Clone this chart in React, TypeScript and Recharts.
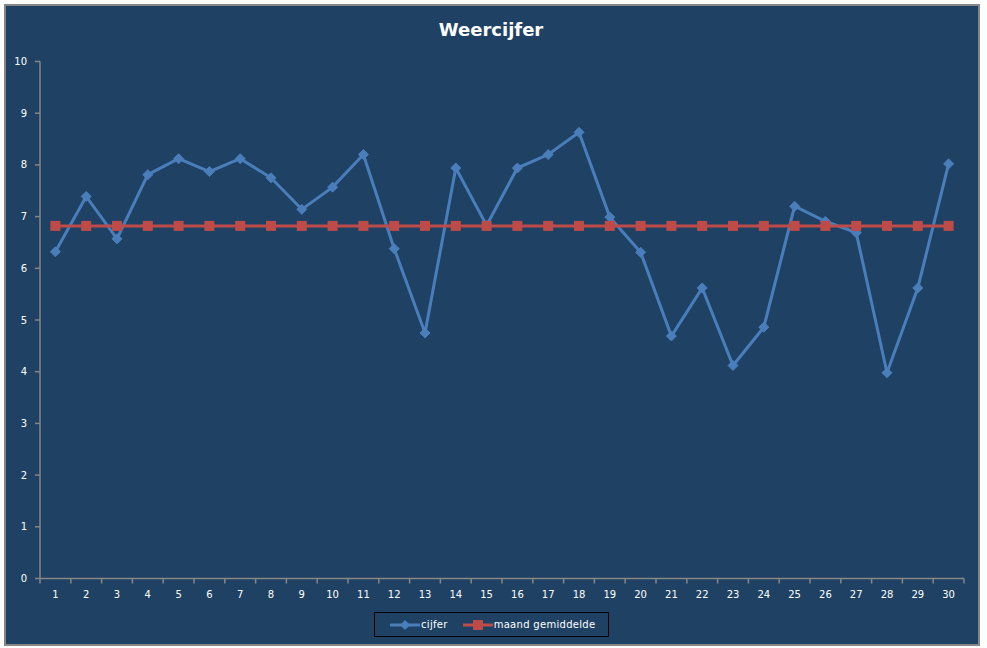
import React from 'react';
import { LineChart, Line, XAxis, YAxis } from 'recharts';

const DAYS = [1, 2, 3, 4, 5, 6, 7, 8, 9, 10, 11, 12, 13, 14, 15, 16, 17, 18, 19, 20, 21, 22, 23, 24, 25, 26, 27, 28, 29, 30];
const CIJFER = [6.32, 7.39, 6.57, 7.81, 8.12, 7.87, 8.12, 7.75, 7.14, 7.57, 8.2, 6.38, 4.75, 7.94, 6.83, 7.94, 8.2, 8.63, 6.99, 6.31, 4.69, 5.62, 4.12, 4.86, 7.2, 6.91, 6.69, 3.98, 5.62, 8.02];
const GEMIDDELDE = [6.82, 6.82, 6.82, 6.82, 6.82, 6.82, 6.82, 6.82, 6.82, 6.82, 6.82, 6.82, 6.82, 6.82, 6.82, 6.82, 6.82, 6.82, 6.82, 6.82, 6.82, 6.82, 6.82, 6.82, 6.82, 6.82, 6.82, 6.82, 6.82, 6.82];
const Y_TICKS = [0, 1, 2, 3, 4, 5, 6, 7, 8, 9, 10];
const TITLE = 'Weercijfer';
const SERIES_NAMES = ['cijfer', 'maand gemiddelde'];

const data = DAYS.map((d, i) => ({ day: d, cijfer: CIJFER[i], gem: GEMIDDELDE[i] }));

const W = 987;
const H = 648;
const MARGIN = { top: 61.5, right: 23, bottom: 39.5, left: 0 };
const YAXIS_W = 40;
const PLOT_W = W - MARGIN.left - MARGIN.right - YAXIS_W;
const HALF_BAND = PLOT_W / DAYS.length / 2;

const BG = '#1F4264';
const AXIS = '#868686';
const BLUE = '#4A7EBB';
const RED = '#BE4B48';
const FONT = '"DejaVu Sans", Verdana, sans-serif';

const XTick = (props: any) => {
  const { x, y, payload, index } = props;
  const axisY = y - 12;
  return (
    <g>
      <line x1={x - HALF_BAND} x2={x - HALF_BAND} y1={axisY} y2={axisY + 5} stroke={AXIS} strokeWidth={1.5} />
      {index === DAYS.length - 1 && (
        <line x1={x + HALF_BAND} x2={x + HALF_BAND} y1={axisY} y2={axisY + 5} stroke={AXIS} strokeWidth={1.5} />
      )}
      <text x={x} y={y} dy="0.75em" textAnchor="middle" fill="#FFFFFF" fontSize={10} fontFamily={FONT}>
        {payload.value}
      </text>
    </g>
  );
};

const Diamond = (props: any) => {
  const { cx, cy, index } = props;
  if (cx == null || cy == null) return <g key={index} />;
  const r = 5;
  return (
    <path
      key={index}
      d={`M${cx},${cy - r} L${cx + r},${cy} L${cx},${cy + r} L${cx - r},${cy} Z`}
      fill={BLUE}
      stroke={BLUE}
      strokeWidth={1}
    />
  );
};

const Square = (props: any) => {
  const { cx, cy, index } = props;
  if (cx == null || cy == null) return <g key={index} />;
  const r = 5;
  return <rect key={index} x={cx - r} y={cy - r} width={2 * r} height={2 * r} fill={RED} />;
};

const LegendIcon = ({ color, kind }: { color: string; kind: 'diamond' | 'square' }) => (
  <svg width={30} height={12} style={{ display: 'block' }}>
    <line x1={0} x2={30} y1={6} y2={6} stroke={color} strokeWidth={3} />
    {kind === 'diamond' ? (
      <path d="M15,1 L20,6 L15,11 L10,6 Z" fill={color} />
    ) : (
      <rect x={10} y={1} width={10} height={10} fill={color} />
    )}
  </svg>
);

export default function App() {
  return (
    <div style={{ position: 'absolute', left: 0, top: 0, width: W, height: H, fontFamily: FONT }}>
      <div
        style={{
          position: 'absolute',
          left: 4,
          top: 4,
          width: 976,
          height: 642,
          boxSizing: 'border-box',
          border: `2px solid ${AXIS}`,
          background: BG,
        }}
      />
      <div
        style={{
          position: 'absolute',
          left: 0,
          top: 19,
          width: 982,
          textAlign: 'center',
          color: '#FFFFFF',
          fontWeight: 'bold',
          fontSize: 18,
          lineHeight: '22px',
          fontFamily: FONT,
        }}
      >
        {TITLE}
      </div>
      <div style={{ position: 'absolute', left: 0, top: 0 }}>
        <LineChart width={W} height={H} data={data} margin={MARGIN}>
          <XAxis
            dataKey="day"
            type="number"
            domain={[0.5, 30.5]}
            ticks={DAYS}
            interval={0}
            height={30}
            tickLine={false}
            tickSize={0}
            tickMargin={12}
            axisLine={{ stroke: AXIS, strokeWidth: 1.5 }}
            tick={<XTick />}
          />
          <YAxis
            domain={[0, 10]}
            ticks={Y_TICKS}
            interval={0}
            width={YAXIS_W}
            tickSize={5}
            tickMargin={8}
            axisLine={{ stroke: AXIS, strokeWidth: 1.5 }}
            tickLine={{ stroke: AXIS, strokeWidth: 1.5 }}
            tick={{ fill: '#FFFFFF', fontSize: 10, fontFamily: FONT }}
          />
          <Line
            dataKey="cijfer"
            name={SERIES_NAMES[0]}
            stroke={BLUE}
            strokeWidth={3}
            dot={<Diamond />}
            isAnimationActive={false}
          />
          <Line
            dataKey="gem"
            name={SERIES_NAMES[1]}
            stroke={RED}
            strokeWidth={3}
            dot={<Square />}
            isAnimationActive={false}
          />
        </LineChart>
      </div>
      <div
        style={{
          position: 'absolute',
          left: 374,
          top: 612,
          width: 235,
          height: 25,
          boxSizing: 'border-box',
          border: '1px solid #000000',
          display: 'flex',
          alignItems: 'center',
          paddingLeft: 15,
          color: '#FFFFFF',
          fontSize: 10,
          fontFamily: FONT,
          letterSpacing: 0.3,
        }}
      >
        <LegendIcon color={BLUE} kind="diamond" />
        <span style={{ marginLeft: 1, marginRight: 15 }}>{SERIES_NAMES[0]}</span>
        <LegendIcon color={RED} kind="square" />
        <span style={{ marginLeft: 1 }}>{SERIES_NAMES[1]}</span>
      </div>
    </div>
  );
}
